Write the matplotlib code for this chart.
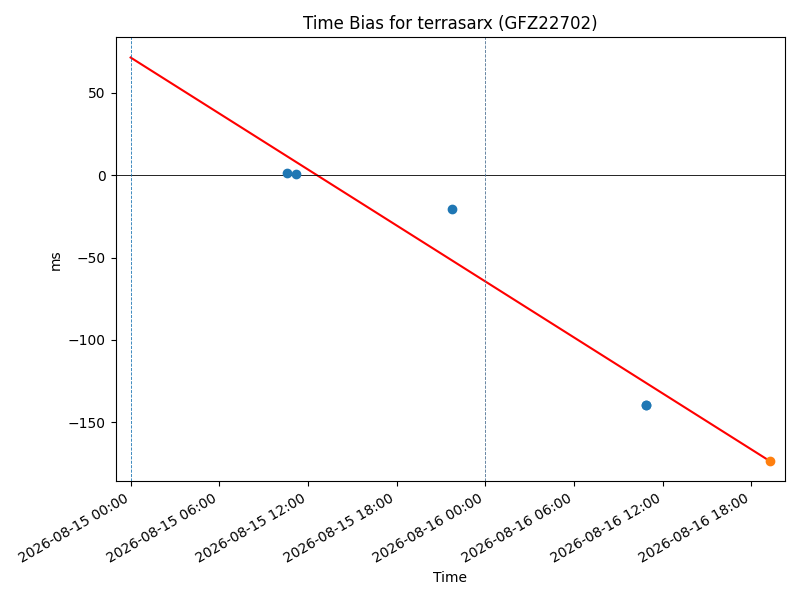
import numpy as np
import pandas as pd
import matplotlib
matplotlib.use("Agg")
import matplotlib.pyplot as plt
import matplotlib.dates as mdates

# Observed time bias points
obs_times = pd.to_datetime([
    "2026-08-15 10:35", "2026-08-15 11:11", "2026-08-15 21:46",
    "2026-08-16 10:51", "2026-08-16 10:52",
])
obs_bias = [1.4, 1.0, -20.8, -139.5, -139.8]

# Latest (predicted) point
last_time = pd.to_datetime(["2026-08-16 19:15"])
last_bias = [-173.6]

# Linear trend
fit_times = pd.to_datetime(["2026-08-15 00:00", "2026-08-16 19:15"])
fit_bias = [71.4, -173.6]

# Reference markers
epochs = pd.to_datetime(["2026-08-15 00:00", "2026-08-16 00:00"])
epoch_colors = ["C0", "#4f7394"]

fig, ax = plt.subplots(figsize=(8, 6), dpi=100)

ax.scatter(obs_times, obs_bias, color="C0", zorder=3)
ax.scatter(last_time, last_bias, color="C1", zorder=3)
ax.plot(fit_times, fit_bias, color="red")
ax.axhline(0, color="black", linewidth=0.6)
for t, c in zip(epochs, epoch_colors):
    ax.axvline(t, color=c, linestyle="--", linewidth=0.6)

ax.set_xlim(pd.Timestamp("2026-08-14 22:59"), pd.Timestamp("2026-08-16 20:16"))
ax.xaxis.set_major_locator(mdates.HourLocator(byhour=[0, 6, 12, 18]))
ax.xaxis.set_major_formatter(mdates.DateFormatter("%Y-%m-%d %H:%M"))
fig.autofmt_xdate()

ax.set_title("Time Bias for terrasarx (GFZ22702)")
ax.set_xlabel("Time")
ax.set_ylabel("ms")

fig.tight_layout()
fig.savefig("out.png")
